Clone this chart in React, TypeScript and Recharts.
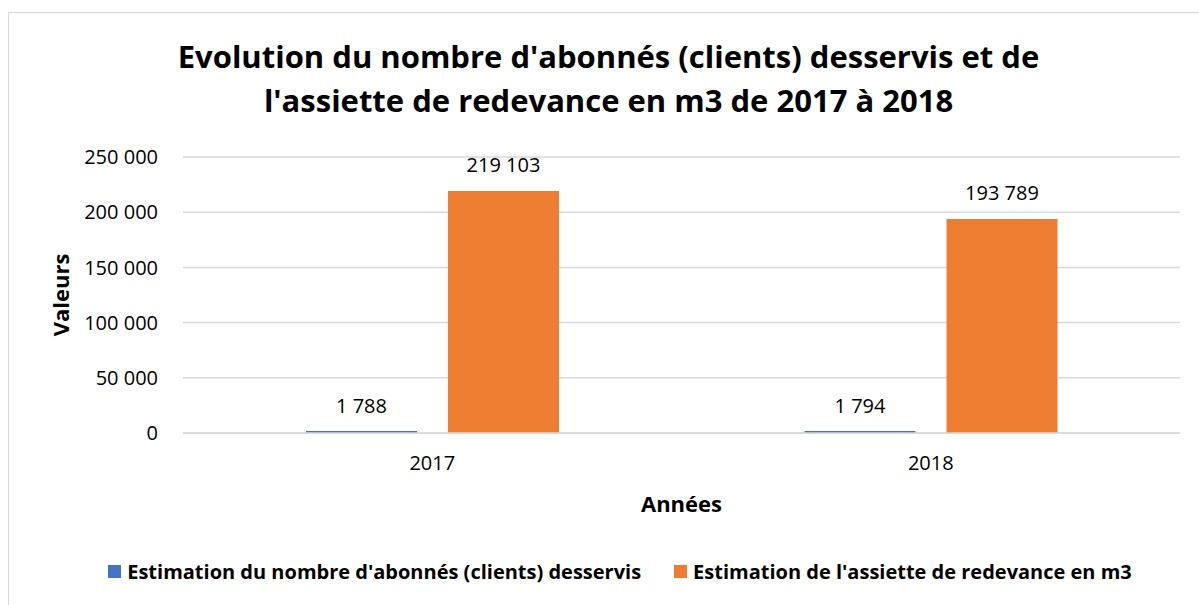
import React from "react";
import { Bar, BarChart, CartesianGrid, LabelList, XAxis, YAxis } from "recharts";

const years = ["2017", "2018"];
const abonnes = [1788, 1794];
const assiette = [219103, 193789];
const yTicks = [0, 50000, 100000, 150000, 200000, 250000];
const seriesNames = [
  "Estimation du nombre d'abonnés (clients) desservis",
  "Estimation de l'assiette de redevance en m3",
];
const colors = ["#4472c4", "#ed7d31"];

const data = years.map((year, i) => ({ year, abonnes: abonnes[i], assiette: assiette[i] }));

const FONT = "'Open Sans', Lato, sans-serif";

const fmt = (v: number) => String(v).replace(/\B(?=(\d{3})+(?!\d))/g, " ");

export default function App() {
  return (
    <div style={{ position: "absolute", left: 0, top: 0, width: 1199, height: 605, background: "#fff", overflow: "hidden" }}>
      <div style={{ position: "absolute", left: 8, top: 12, width: 1300, height: 700, border: "1px solid #d9d9d9" }} />
      <div style={{ position: "absolute", left: 0, top: 34, width: 1217, textAlign: "center", fontFamily: FONT, fontWeight: 700, fontSize: 31, lineHeight: "44px", color: "#000" }}>
        Evolution du nombre d'abonnés (clients) desservis et de
        <br />
        l'assiette de redevance en m3 de 2017 à 2018
      </div>
      <div style={{ position: "absolute", left: 0, top: 0 }}>
        <BarChart width={1199} height={605} data={data} margin={{ top: 157, right: 19, bottom: 142, left: 83 }} barGap={31} barSize={111}>
          <CartesianGrid vertical={false} stroke="#d9d9d9" strokeWidth={1.5} />
          <XAxis
            dataKey="year"
            height={30}
            axisLine={{ stroke: "#d9d9d9", strokeWidth: 1.5 }}
            tickLine={false}
            tickSize={0}
            tickMargin={23}
            tick={{ fill: "#000", fontSize: 20, fontFamily: FONT }}
            label={{ value: "Années", position: "insideBottom", offset: -49, fill: "#000", fontSize: 22, fontWeight: 700, fontFamily: FONT }}
          />
          <YAxis
            width={100}
            domain={[0, 250000]}
            ticks={yTicks}
            axisLine={false}
            tickLine={false}
            tickSize={0}
            tickMargin={25}
            tickFormatter={fmt}
            tick={{ fill: "#000", fontSize: 20, fontFamily: FONT }}
            label={{ value: "Valeurs", angle: -90, position: "insideLeft", offset: -22, fill: "#000", fontSize: 22, fontWeight: 700, fontFamily: FONT, style: { textAnchor: "middle" } }}
          />
          <Bar dataKey="abonnes" name={seriesNames[0]} fill={colors[0]} isAnimationActive={false}>
            <LabelList dataKey="abonnes" position="top" offset={18} formatter={(v: any) => fmt(v)} style={{ fill: "#000", fontSize: 20, fontFamily: FONT }} />
          </Bar>
          <Bar dataKey="assiette" name={seriesNames[1]} fill={colors[1]} isAnimationActive={false}>
            <LabelList dataKey="assiette" position="top" offset={19} formatter={(v: any) => fmt(v)} style={{ fill: "#000", fontSize: 20, fontFamily: FONT }} />
          </Bar>
        </BarChart>
      </div>
      <div style={{ position: "absolute", left: 0, top: 558, width: 1240, display: "flex", justifyContent: "center", gap: 33, fontFamily: FONT, fontWeight: 700, fontSize: 20, color: "#000" }}>
        {seriesNames.map((name, i) => (
          <div key={name} style={{ display: "flex", alignItems: "center", gap: 6 }}>
            <span style={{ display: "inline-block", width: 13, height: 13, background: colors[i] }} />
            <span>{name}</span>
          </div>
        ))}
      </div>
    </div>
  );
}
